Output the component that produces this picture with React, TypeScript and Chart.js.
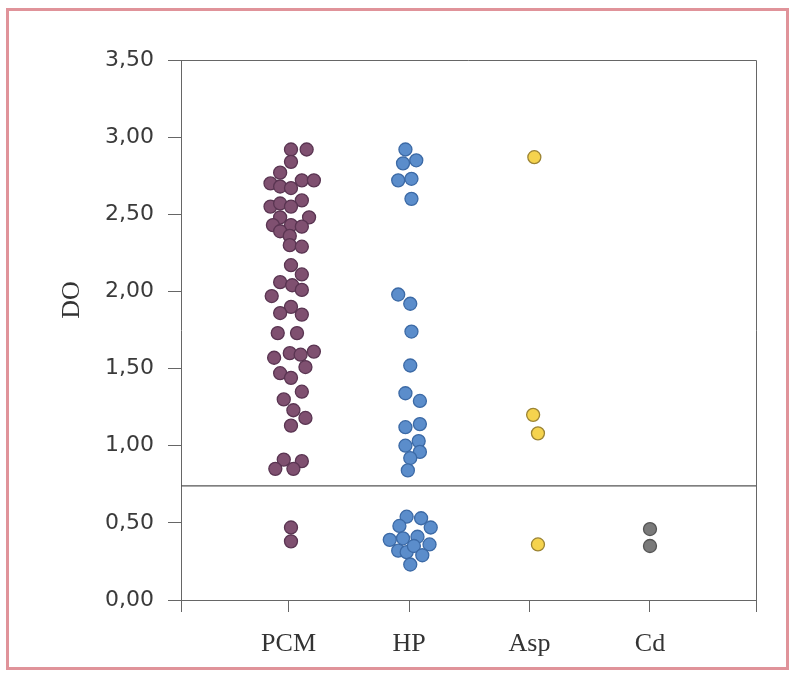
import { useEffect, useRef } from 'react';
import { Chart, registerables } from 'chart.js';

Chart.register(...registerables);

const categories = ['PCM', 'HP', 'Asp', 'Cd'];
const categoryPositions = [1, 2, 3, 4];
const yAxisTitle = 'DO';

const pcmX = [1.02, 1.15, 1.02, 0.93, 0.85, 0.93, 1.02, 1.11, 1.21, 1.11, 0.85, 0.93, 1.02, 0.93, 1.17, 0.87, 1.02, 1.11, 0.93, 1.01, 1.01, 1.11, 1.02, 1.11, 0.93, 1.03, 1.11, 0.86, 1.02, 0.93, 1.11, 0.91, 1.07, 0.88, 1.01, 1.10, 1.21, 1.14, 0.93, 1.02, 1.11, 0.96, 1.04, 1.14, 1.02, 0.96, 1.11, 0.89, 1.04, 1.02, 1.02];
const pcmY = [2.92, 2.92, 2.84, 2.77, 2.70, 2.68, 2.67, 2.72, 2.72, 2.59, 2.55, 2.57, 2.55, 2.48, 2.48, 2.43, 2.43, 2.42, 2.39, 2.36, 2.30, 2.29, 2.17, 2.11, 2.06, 2.04, 2.01, 1.97, 1.90, 1.86, 1.85, 1.73, 1.73, 1.57, 1.60, 1.59, 1.61, 1.51, 1.47, 1.44, 1.35, 1.30, 1.23, 1.18, 1.13, 0.91, 0.90, 0.85, 0.85, 0.47, 0.38];

const hpX = [1.97, 1.95, 2.06, 1.91, 2.02, 2.02, 1.91, 2.01, 2.02, 2.01, 1.97, 2.09, 1.97, 2.09, 1.97, 2.08, 2.09, 2.01, 1.99, 1.98, 2.10, 1.92, 2.18, 1.84, 1.95, 2.07, 2.17, 1.91, 1.98, 2.04, 2.11, 2.01];
const hpY = [2.92, 2.83, 2.85, 2.72, 2.73, 2.60, 1.98, 1.92, 1.74, 1.52, 1.34, 1.29, 1.12, 1.14, 1.00, 1.03, 0.96, 0.92, 0.84, 0.54, 0.53, 0.48, 0.47, 0.39, 0.40, 0.41, 0.36, 0.32, 0.31, 0.35, 0.29, 0.23];

const aspX = [3.04, 3.03, 3.07, 3.07];
const aspY = [2.87, 1.20, 1.08, 0.36];

const cdX = [4.0, 4.0];
const cdY = [0.46, 0.35];

const cutoffValue = 0.74;

const xMin = 0.107;
const xMax = 4.88;
const yMin = 0;
const yMax = 3.5;
const yStep = 0.5;

const zip = (xs: number[], ys: number[]) => xs.map((x, i) => ({ x, y: ys[i] }));

const framePlugin = {
  id: 'frameAndTitle',
  afterDraw(chart: any) {
    const { ctx, chartArea } = chart;
    ctx.save();
    ctx.strokeStyle = '#666';
    ctx.lineWidth = 1;
    ctx.beginPath();
    ctx.moveTo(chartArea.left, chartArea.top + 0.5);
    ctx.lineTo(chartArea.right + 0.5, chartArea.top + 0.5);
    ctx.lineTo(chartArea.right + 0.5, chartArea.bottom);
    ctx.stroke();
    ctx.translate(72, 300);
    ctx.rotate(-Math.PI / 2);
    ctx.fillStyle = '#333';
    ctx.font = '26px "Liberation Serif"';
    ctx.textAlign = 'center';
    ctx.textBaseline = 'middle';
    ctx.fillText(yAxisTitle, 0, 0);
    ctx.restore();
  },
};

export default function App() {
  const ref = useRef<HTMLCanvasElement | null>(null);

  useEffect(() => {
    if (!ref.current) return;
    const dot = (bg: string, border: string) => ({
      backgroundColor: bg,
      borderColor: border,
      pointRadius: 6.5,
      pointBorderWidth: 1.3,
      showLine: false,
    });
    const chart = new Chart(ref.current, {
      type: 'scatter',
      data: {
        datasets: [
          {
            type: 'line',
            label: 'cutoff',
            data: [{ x: xMin, y: cutoffValue }, { x: xMax, y: cutoffValue }],
            borderColor: '#555',
            borderWidth: 1.2,
            pointRadius: 0,
            fill: false,
          } as any,
          { label: categories[0], data: zip(pcmX, pcmY), ...dot('#7f5070', '#5a3552') },
          { label: categories[1], data: zip(hpX, hpY), ...dot('#5b8dcb', '#3c6aa6') },
          { label: categories[2], data: zip(aspX, aspY), ...dot('#f5d34e', '#9c8434') },
          { label: categories[3], data: zip(cdX, cdY), ...dot('#7a7a7a', '#555555') },
        ],
      },
      options: {
        animation: false,
        responsive: false,
        devicePixelRatio: 1,
        layout: { padding: { left: 0, right: 33, top: 60, bottom: 0 } },
        plugins: { legend: { display: false }, tooltip: { enabled: false } },
        scales: {
          x: {
            type: 'linear',
            min: xMin,
            max: xMax,
            afterBuildTicks: (scale: any) => {
              scale.ticks = [xMin, ...categoryPositions, xMax].map((v) => ({ value: v }));
            },
            afterFit: (scale: any) => {
              scale.height = 77;
            },
            ticks: {
              autoSkip: false,
              maxRotation: 0,
              padding: 17,
              color: '#333',
              font: { family: '"Liberation Serif"', size: 26 },
              callback: (v: any) => {
                const i = categoryPositions.indexOf(Number(v));
                return i >= 0 ? categories[i] : '';
              },
            },
            grid: { drawOnChartArea: false, drawTicks: true, tickLength: 12, color: '#666' },
            border: { display: true, color: '#666', width: 1 },
          },
          y: {
            min: yMin,
            max: yMax,
            afterFit: (scale: any) => {
              scale.width = 181;
            },
            ticks: {
              stepSize: yStep,
              padding: 14,
              color: '#3a3a3a',
              font: { family: '"DejaVu Sans"', size: 22 },
              callback: (v: any) => Number(v).toFixed(2).replace('.', ','),
            },
            grid: { drawOnChartArea: false, drawTicks: true, tickLength: 13, color: '#666' },
            border: { display: true, color: '#666', width: 1 },
          },
        },
      },
      plugins: [framePlugin],
    });
    return () => chart.destroy();
  }, []);

  return (
    <div style={{ position: 'absolute', left: 0, top: 0, width: 789, height: 677, background: '#fff', overflow: 'hidden' }}>
      <canvas ref={ref} width={789} height={677} style={{ display: 'block', width: 789, height: 677 }} />
      <div
        style={{
          position: 'absolute',
          left: 6,
          top: 8,
          width: 783,
          height: 662,
          border: '3px solid #e0939a',
          boxSizing: 'border-box',
          pointerEvents: 'none',
        }}
      />
    </div>
  );
}
